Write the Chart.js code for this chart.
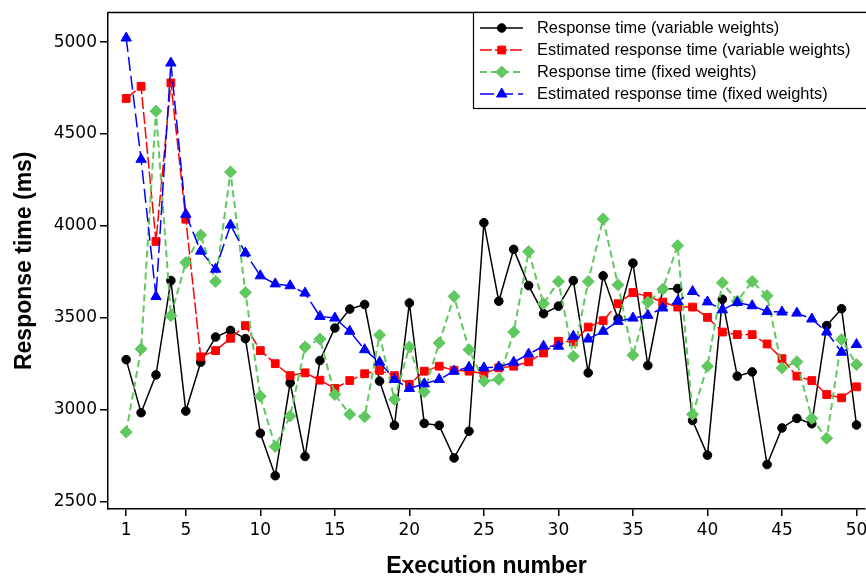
<!DOCTYPE html>
<html>
<head>
<meta charset="utf-8">
<title>Response time</title>
<script src="https://cdn.jsdelivr.net/npm/chart.js@4.4.1/dist/chart.umd.min.js"></script>
<style>
  html, body { margin: 0; padding: 0; overflow: hidden; background: #fff; }
  canvas { display: block; }
</style>
</head>
<body>
<canvas id="rtChart" width="872" height="576"></canvas>
<script>
// ===================== Data =====================
const executions = Array.from({ length: 50 }, (_, i) => i + 1);

const respVariable = [3272, 2983, 3189, 3702, 2992, 3258, 3395, 3431, 3386, 2871,
  2640, 3146, 2745, 3267, 3444, 3547, 3572, 3155, 2914, 3580,
  2925, 2914, 2737, 2882, 4017, 3590, 3872, 3675, 3522, 3563,
  3702, 3200, 3728, 3495, 3797, 3240, 3655, 3659, 2941, 2752,
  3600, 3182, 3205, 2701, 2900, 2952, 2923, 3457, 3549, 2916];

const estVariable = [4693, 4759, 3915, 4778, 4036, 3287, 3321, 3388, 3457, 3321,
  3250, 3185, 3200, 3160, 3115, 3158, 3195, 3213, 3185, 3137,
  3209, 3236, 3214, 3209, 3196, 3227, 3236, 3260, 3308, 3372,
  3368, 3449, 3484, 3576, 3637, 3616, 3585, 3558, 3558, 3502,
  3422, 3408, 3408, 3357, 3277, 3182, 3158, 3082, 3064, 3124];

const respFixed = [2878, 3330, 4624, 3511, 3800, 3950, 3697, 4293, 3637, 3073,
  2799, 2965, 3341, 3384, 3082, 2974, 2961, 3406, 3055, 3341,
  3097, 3363, 3616, 3326, 3155, 3164, 3422, 3860, 3576, 3697,
  3290, 3697, 4037, 3679, 3296, 3585, 3655, 3892, 2974, 3236,
  3690, 3590, 3697, 3620, 3227, 3260, 2952, 2844, 3381, 3245];

const estFixed = [5022, 4362, 3615, 4886, 4063, 3862, 3764, 4004, 3852, 3728,
  3684, 3674, 3634, 3507, 3498, 3426, 3326, 3258, 3164, 3115,
  3140, 3164, 3209, 3230, 3227, 3232, 3258, 3302, 3345, 3345,
  3399, 3384, 3426, 3480, 3498, 3513, 3553, 3589, 3643, 3586,
  3543, 3583, 3565, 3534, 3531, 3525, 3493, 3422, 3312, 3354];

const xTicks = [1, 5, 10, 15, 20, 25, 30, 35, 40, 45, 50];
const yTicks = [2500, 3000, 3500, 4000, 4500, 5000];

const toPoints = arr => arr.map((v, i) => ({ x: executions[i], y: v }));

// ===================== Frame + boxed legend =====================
const frameAndLegend = {
  id: 'frameAndLegend',
  afterDraw(chart) {
    const { ctx, chartArea } = chart;
    ctx.save();

    // top frame line
    ctx.strokeStyle = '#000';
    ctx.lineWidth = 1.5;
    ctx.beginPath();
    ctx.moveTo(chartArea.left, chartArea.top);
    ctx.lineTo(chartArea.right + 10, chartArea.top);
    ctx.stroke();

    // legend box
    const bx = 473.5, by = chartArea.top, bw = 420, bh = 96;
    ctx.fillStyle = '#fff';
    ctx.fillRect(bx, by, bw, bh);
    ctx.lineWidth = 1.2;
    ctx.strokeRect(bx, by, bw, bh);

    chart.data.datasets.forEach((ds, i) => {
      const y = by + 15.5 + i * 22;
      ctx.strokeStyle = ds.borderColor;
      ctx.lineWidth = ds.borderWidth;
      ctx.setLineDash(ds.borderDash || []);
      ctx.beginPath();
      ctx.moveTo(480, y);
      ctx.lineTo(523, y);
      ctx.stroke();
      ctx.setLineDash([]);

      ctx.fillStyle = ds.pointBackgroundColor;
      ctx.strokeStyle = ds.pointBorderColor;
      ctx.lineWidth = ds.pointBorderWidth;
      Chart.helpers.drawPoint(ctx, {
        pointStyle: ds.pointStyle,
        radius: ds.pointRadius,
        borderWidth: ds.pointBorderWidth,
        rotation: 0
      }, 501.7, y);

      ctx.fillStyle = '#000';
      ctx.font = '16.4px "Liberation Sans", Arial, sans-serif';
      ctx.textBaseline = 'middle';
      ctx.textAlign = 'left';
      ctx.fillText(ds.label, 537, y + 0.5);
    });

    ctx.restore();
  }
};

// ===================== Chart =====================
const tickFont = { family: '"DejaVu Sans", Verdana, sans-serif', size: 17 };
const titleFont = { family: '"Liberation Sans", Arial, sans-serif', size: 23, weight: 'bold', lineHeight: 1 };

const ctx = document.getElementById('rtChart').getContext('2d');

new Chart(ctx, {
  type: 'line',
  data: {
    datasets: [
      {
        label: 'Response time (variable weights)',
        data: toPoints(respVariable),
        borderColor: '#000000',
        backgroundColor: '#000000',
        borderWidth: 1.5,
        pointStyle: 'circle',
        pointRadius: 4.3,
        pointBackgroundColor: '#000000',
        pointBorderColor: '#000000',
        pointBorderWidth: 1,
        order: 3
      },
      {
        label: 'Estimated response time (variable weights)',
        data: toPoints(estVariable),
        borderColor: '#ff0000',
        backgroundColor: '#ff0000',
        borderWidth: 1.5,
        borderDash: [12, 3],
        pointStyle: 'rect',
        pointRadius: 5.5,
        pointBackgroundColor: '#ff0000',
        pointBorderColor: '#ff0000',
        pointBorderWidth: 1,
        order: 2
      },
      {
        label: 'Response time (fixed weights)',
        data: toPoints(respFixed),
        borderColor: '#5fc85f',
        backgroundColor: '#5fc85f',
        borderWidth: 2,
        borderDash: [7, 4],
        pointStyle: 'rectRot',
        pointRadius: 6,
        pointBackgroundColor: '#5fc85f',
        pointBorderColor: '#5fc85f',
        pointBorderWidth: 1,
        order: 1
      },
      {
        label: 'Estimated response time (fixed weights)',
        data: toPoints(estFixed),
        borderColor: '#0000ff',
        backgroundColor: '#0000ff',
        borderWidth: 1.5,
        borderDash: [14, 5],
        pointStyle: 'triangle',
        pointRadius: 6,
        pointBackgroundColor: '#0000ff',
        pointBorderColor: '#0000ff',
        pointBorderWidth: 1,
        order: 0
      }
    ]
  },
  options: {
    responsive: false,
    animation: false,
    events: [],
    layout: { padding: { top: 12.5, right: 0, bottom: 0, left: 0 } },
    plugins: {
      legend: { display: false },
      tooltip: { enabled: false }
    },
    scales: {
      x: {
        type: 'linear',
        min: -0.22,
        max: 50.57,
        afterBuildTicks: s => { s.ticks = xTicks.map(v => ({ value: v })); },
        afterFit: s => { s.height = 67; s.paddingLeft = 0; s.paddingRight = 0; },
        grid: { drawOnChartArea: false, color: '#000', lineWidth: 1.5, tickLength: 7 },
        border: { color: '#000', width: 1.5 },
        ticks: { font: tickFont, color: '#000', padding: 4, maxRotation: 0, autoSkip: false, callback: v => String(v) },
        title: { display: true, text: 'Execution number', font: titleFont, color: '#000', padding: { top: 0, bottom: -2 } }
      },
      y: {
        min: 2459,
        max: 5161,
        afterBuildTicks: s => { s.ticks = yTicks.map(v => ({ value: v })); },
        afterFit: s => { s.width = 108; s.paddingTop = 0; s.paddingBottom = 0; },
        grid: { drawOnChartArea: false, color: '#000', lineWidth: 1.5, tickLength: 8 },
        border: { color: '#000', width: 1.5 },
        ticks: { font: tickFont, color: '#000', padding: 3, callback: v => String(v) },
        title: { display: true, text: 'Response time (ms)', font: titleFont, color: '#000', padding: { top: 13, bottom: 0 } }
      }
    }
  },
  plugins: [frameAndLegend]
});
</script>
</body>
</html>
